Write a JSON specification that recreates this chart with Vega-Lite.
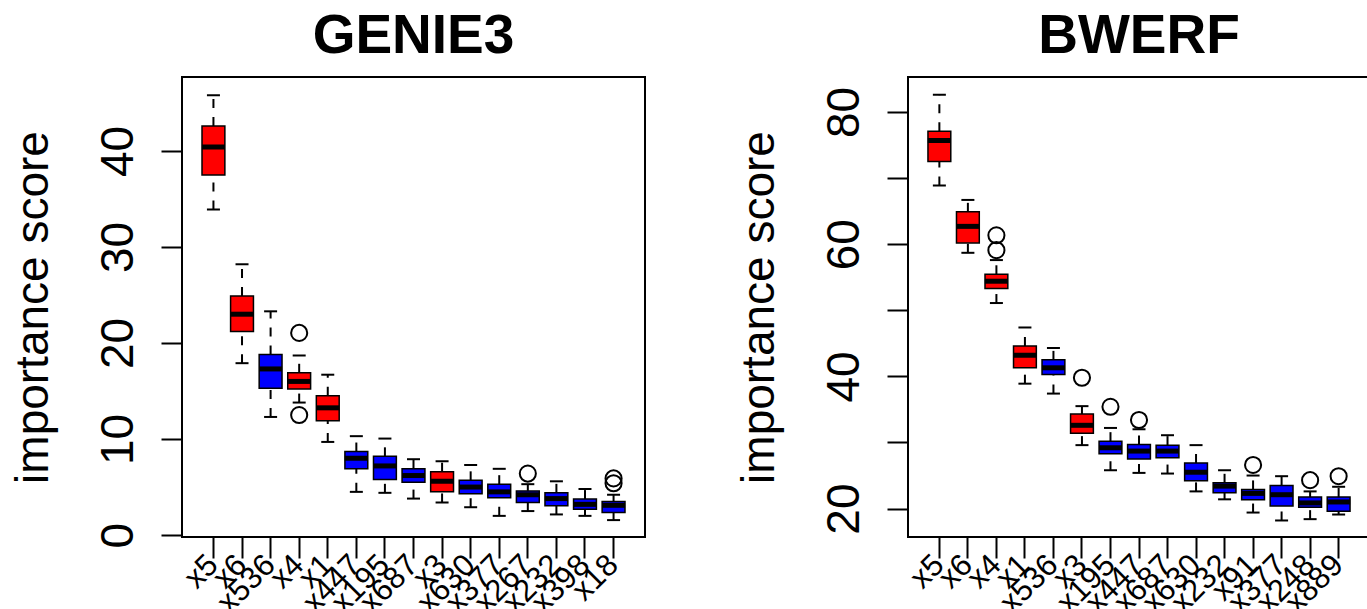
{
  "$schema": "https://vega.github.io/schema/vega-lite/v6.json",
  "background": "white",
  "padding": {"left": 9, "top": 8, "right": 0, "bottom": 0},
  "spacing": 89,
  "config": {
    "font": "Liberation Sans",
    "view": {"stroke": "black", "strokeWidth": 2},
    "axis": {"grid": false, "domain": false, "tickColor": "black", "tickWidth": 2, "tickSize": 21, "labelColor": "black", "titleColor": "black", "labelFont": "Liberation Sans", "titleFont": "Liberation Sans"},
    "title": {"fontSize": 55, "fontWeight": "bold", "font": "Liberation Sans", "color": "black"}
  },
  "datasets": {
    "genie": [
      {"gene": "x5", "known": "yes", "lo": 33.9, "q1": 37.5, "med": 40.4, "q3": 42.6, "hi": 45.8},
      {"gene": "x6", "known": "yes", "lo": 17.9, "q1": 21.2, "med": 23.0, "q3": 24.9, "hi": 28.2},
      {"gene": "x536", "known": "no", "lo": 12.3, "q1": 15.3, "med": 17.3, "q3": 18.8, "hi": 23.3},
      {"gene": "x4", "known": "yes", "lo": 13.8, "q1": 15.2, "med": 16.0, "q3": 16.9, "hi": 18.7},
      {"gene": "x1", "known": "yes", "lo": 9.7, "q1": 11.9, "med": 13.25, "q3": 14.5, "hi": 16.7},
      {"gene": "x447", "known": "no", "lo": 4.5, "q1": 6.9, "med": 8.0, "q3": 8.7, "hi": 10.3},
      {"gene": "x195", "known": "no", "lo": 4.4, "q1": 5.8, "med": 7.2, "q3": 8.2, "hi": 10.05},
      {"gene": "x687", "known": "no", "lo": 3.8, "q1": 5.5, "med": 6.2, "q3": 6.9, "hi": 7.9},
      {"gene": "x3", "known": "yes", "lo": 3.4, "q1": 4.5, "med": 5.6, "q3": 6.6, "hi": 7.7},
      {"gene": "x630", "known": "no", "lo": 2.9, "q1": 4.3, "med": 5.0, "q3": 5.7, "hi": 7.3},
      {"gene": "x377", "known": "no", "lo": 2.0, "q1": 3.9, "med": 4.5, "q3": 5.3, "hi": 6.9},
      {"gene": "x267", "known": "no", "lo": 2.5, "q1": 3.4, "med": 4.2, "q3": 4.6, "hi": 5.3},
      {"gene": "x232", "known": "no", "lo": 2.15, "q1": 3.05, "med": 3.8, "q3": 4.4, "hi": 5.6},
      {"gene": "x398", "known": "no", "lo": 2.0, "q1": 2.7, "med": 3.2, "q3": 3.75, "hi": 4.8},
      {"gene": "x18", "known": "no", "lo": 1.56, "q1": 2.35, "med": 3.1, "q3": 3.5, "hi": 4.2}
    ],
    "genieOut": [
      {"gene": "x4", "value": 21.05},
      {"gene": "x4", "value": 12.5},
      {"gene": "x267", "value": 6.4},
      {"gene": "x18", "value": 5.9},
      {"gene": "x18", "value": 5.4}
    ],
    "bwerf": [
      {"gene": "x5", "known": "yes", "lo": 68.9, "q1": 72.5, "med": 75.7, "q3": 77.1, "hi": 82.6},
      {"gene": "x6", "known": "yes", "lo": 58.7, "q1": 60.2, "med": 62.7, "q3": 64.9, "hi": 66.7},
      {"gene": "x4", "known": "yes", "lo": 51.1, "q1": 53.3, "med": 54.4, "q3": 55.45, "hi": 57.6},
      {"gene": "x1", "known": "yes", "lo": 38.9, "q1": 41.3, "med": 43.2, "q3": 44.6, "hi": 47.4},
      {"gene": "x536", "known": "no", "lo": 37.4, "q1": 40.3, "med": 41.3, "q3": 42.5, "hi": 44.3},
      {"gene": "x3", "known": "yes", "lo": 29.6, "q1": 31.4, "med": 32.6, "q3": 34.3, "hi": 35.5},
      {"gene": "x195", "known": "no", "lo": 25.8, "q1": 28.3, "med": 29.2, "q3": 30.2, "hi": 32.2},
      {"gene": "x447", "known": "no", "lo": 25.4, "q1": 27.5, "med": 28.7, "q3": 29.7, "hi": 32.0},
      {"gene": "x687", "known": "no", "lo": 25.3, "q1": 27.7, "med": 28.7, "q3": 29.6, "hi": 31.1},
      {"gene": "x630", "known": "no", "lo": 22.6, "q1": 24.2, "med": 25.5, "q3": 26.9, "hi": 29.6},
      {"gene": "x232", "known": "no", "lo": 21.4, "q1": 22.4, "med": 23.4, "q3": 23.9, "hi": 25.8},
      {"gene": "x91", "known": "no", "lo": 19.4, "q1": 21.35, "med": 22.3, "q3": 22.9, "hi": 25.0},
      {"gene": "x377", "known": "no", "lo": 18.2, "q1": 20.4, "med": 22.1, "q3": 23.5, "hi": 24.9},
      {"gene": "x248", "known": "no", "lo": 18.4, "q1": 20.2, "med": 20.85, "q3": 21.75, "hi": 22.6},
      {"gene": "x889", "known": "no", "lo": 19.1, "q1": 19.6, "med": 21.0, "q3": 21.75, "hi": 23.3}
    ],
    "bwerfOut": [
      {"gene": "x4", "value": 61.35},
      {"gene": "x4", "value": 59.1},
      {"gene": "x3", "value": 39.8},
      {"gene": "x195", "value": 35.4},
      {"gene": "x447", "value": 33.4},
      {"gene": "x91", "value": 26.6},
      {"gene": "x248", "value": 24.3},
      {"gene": "x889", "value": 24.9}
    ]
  },
  "hconcat": [
    {
      "title": {"text": "GENIE3", "offset": -31, "baseline": "alphabetic"},
      "width": 463,
      "height": 460,
      "data": {"name": "genie"},
      "encoding": {
        "x": {"field": "gene", "type": "nominal",
          "scale": {"domain": ["x5","x6","x536","x4","x1","x447","x195","x687","x3","x630","x377","x267","x232","x398","x18"], "paddingInner": 0, "paddingOuter": 0.6},
          "axis": {"title": null, "labelAngle": -45, "labelAlign": "right", "labelBaseline": "middle", "labelFontSize": 31, "labelPadding": 2, "labelOverlap": false, "labelBound": false}}
      },
      "layer": [
        {"mark": {"type": "rule", "strokeDash": [9, 9], "strokeWidth": 2, "color": "black"},
         "encoding": {"y": {"field": "q3", "type": "quantitative", "title": "importance score", "scale": {"domain": [-0.2, 47.7], "nice": false, "zero": false}, "axis": {"values": [0, 10, 20, 30, 40], "labelAngle": -90, "labelAlign": "center", "labelBaseline": "alphabetic", "labelPadding": 29, "labelFontSize": 46, "titleFontSize": 46, "titleFontWeight": "normal", "titlePadding": 38}}, "y2": {"field": "hi"}}},
        {"mark": {"type": "rule", "strokeDash": [9, 9], "strokeWidth": 2, "color": "black"},
         "encoding": {"y": {"field": "lo", "type": "quantitative", "title": "importance score"}, "y2": {"field": "q1"}}},
        {"mark": {"type": "tick", "size": 13, "thickness": 2, "color": "black", "opacity": 1},
         "encoding": {"y": {"field": "hi", "type": "quantitative", "title": "importance score"}}},
        {"mark": {"type": "tick", "size": 13, "thickness": 2, "color": "black", "opacity": 1},
         "encoding": {"y": {"field": "lo", "type": "quantitative", "title": "importance score"}}},
        {"mark": {"type": "bar", "width": {"band": 0.8}, "stroke": "black", "strokeWidth": 1.5, "opacity": 1},
         "encoding": {"y": {"field": "q1", "type": "quantitative", "title": "importance score"}, "y2": {"field": "q3"},
           "color": {"field": "known", "type": "nominal", "scale": {"domain": ["yes", "no"], "range": ["#ff0000", "#0000ff"]}, "legend": null}}},
        {"mark": {"type": "tick", "size": 23, "thickness": 5, "color": "black", "opacity": 1},
         "encoding": {"y": {"field": "med", "type": "quantitative", "title": "importance score"}}},
        {"data": {"name": "genieOut"},
         "mark": {"type": "point", "shape": "circle", "filled": false, "size": 260, "strokeWidth": 2, "color": "black", "opacity": 1},
         "encoding": {"y": {"field": "value", "type": "quantitative", "title": "importance score"}}}
      ]
    },
    {
      "title": {"text": "BWERF", "offset": -31, "baseline": "alphabetic"},
      "width": 462,
      "height": 460,
      "data": {"name": "bwerf"},
      "encoding": {
        "x": {"field": "gene", "type": "nominal",
          "scale": {"domain": ["x5","x6","x4","x1","x536","x3","x195","x447","x687","x630","x232","x91","x377","x248","x889"], "paddingInner": 0, "paddingOuter": 0.6},
          "axis": {"title": null, "labelAngle": -45, "labelAlign": "right", "labelBaseline": "middle", "labelFontSize": 31, "labelPadding": 2, "labelOverlap": false, "labelBound": false}}
      },
      "layer": [
        {"mark": {"type": "rule", "strokeDash": [9, 9], "strokeWidth": 2, "color": "black"},
         "encoding": {"y": {"field": "q3", "type": "quantitative", "title": "importance score", "scale": {"domain": [15.7, 85.3], "nice": false, "zero": false}, "axis": {"values": [20, 30, 40, 50, 60, 70, 80], "labelExpr": "datum.value % 20 === 0 ? datum.label : ''", "labelAngle": -90, "labelAlign": "center", "labelBaseline": "alphabetic", "labelPadding": 29, "labelFontSize": 46, "titleFontSize": 46, "titleFontWeight": "normal", "titlePadding": 38}}, "y2": {"field": "hi"}}},
        {"mark": {"type": "rule", "strokeDash": [9, 9], "strokeWidth": 2, "color": "black"},
         "encoding": {"y": {"field": "lo", "type": "quantitative", "title": "importance score"}, "y2": {"field": "q1"}}},
        {"mark": {"type": "tick", "size": 13, "thickness": 2, "color": "black", "opacity": 1},
         "encoding": {"y": {"field": "hi", "type": "quantitative", "title": "importance score"}}},
        {"mark": {"type": "tick", "size": 13, "thickness": 2, "color": "black", "opacity": 1},
         "encoding": {"y": {"field": "lo", "type": "quantitative", "title": "importance score"}}},
        {"mark": {"type": "bar", "width": {"band": 0.8}, "stroke": "black", "strokeWidth": 1.5, "opacity": 1},
         "encoding": {"y": {"field": "q1", "type": "quantitative", "title": "importance score"}, "y2": {"field": "q3"},
           "color": {"field": "known", "type": "nominal", "scale": {"domain": ["yes", "no"], "range": ["#ff0000", "#0000ff"]}, "legend": null}}},
        {"mark": {"type": "tick", "size": 23, "thickness": 5, "color": "black", "opacity": 1},
         "encoding": {"y": {"field": "med", "type": "quantitative", "title": "importance score"}}},
        {"data": {"name": "bwerfOut"},
         "mark": {"type": "point", "shape": "circle", "filled": false, "size": 260, "strokeWidth": 2, "color": "black", "opacity": 1},
         "encoding": {"y": {"field": "value", "type": "quantitative", "title": "importance score"}}}
      ]
    }
  ]
}
